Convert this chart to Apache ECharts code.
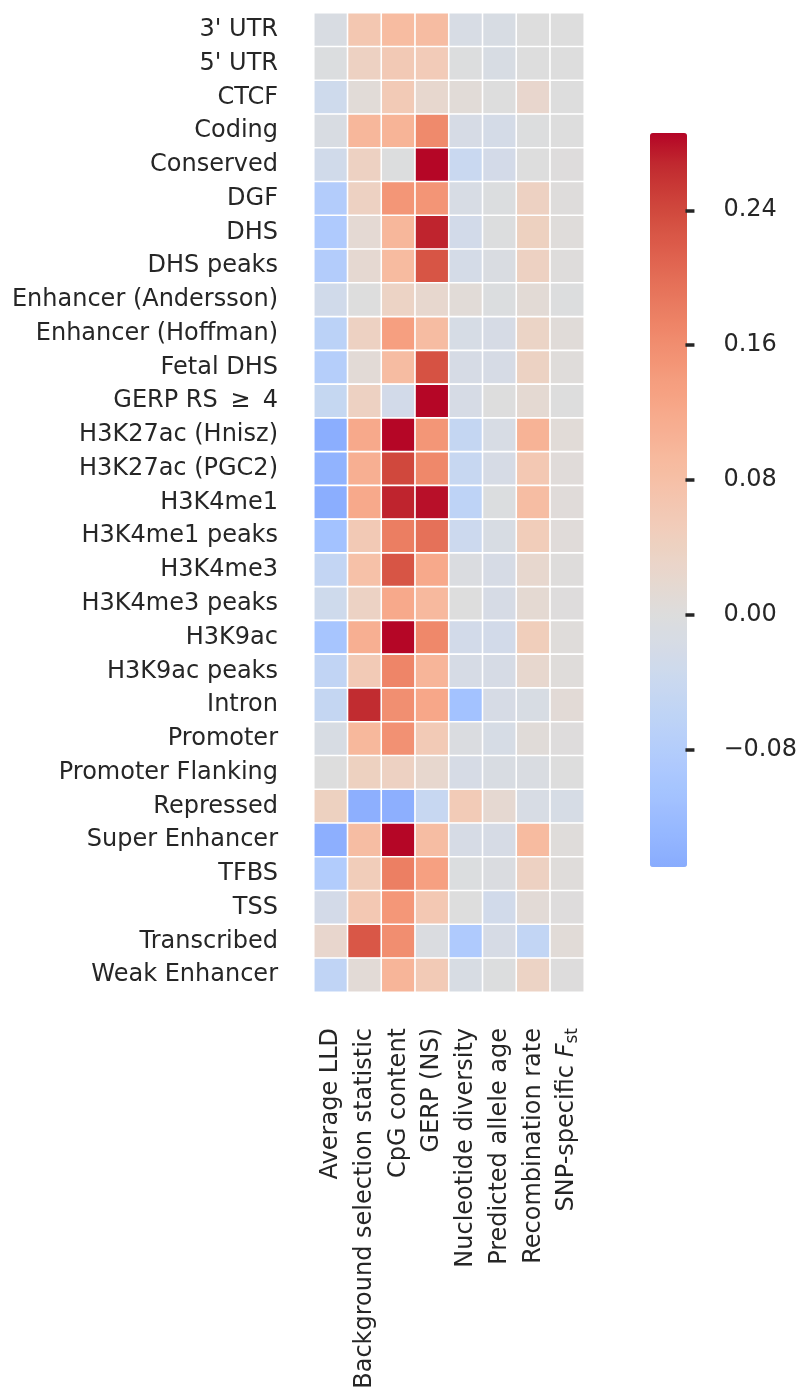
<!DOCTYPE html>
<html>
<head>
<meta charset="utf-8">
<script src="https://cdn.jsdelivr.net/npm/echarts@6/dist/echarts.min.js"></script>
<style>html,body{margin:0;padding:0;background:#fff;}#c{width:800px;height:1393px;}</style>
</head>
<body>
<div id="c"></div>
<script>
// ---- data ----
const rowLabels = ["3' UTR", "5' UTR", "CTCF", "Coding", "Conserved", "DGF", "DHS", "DHS peaks",
  "Enhancer (Andersson)", "Enhancer (Hoffman)", "Fetal DHS", "GERP RS \u2009\u2265\u2009 4",
  "H3K27ac (Hnisz)", "H3K27ac (PGC2)", "H3K4me1", "H3K4me1 peaks", "H3K4me3", "H3K4me3 peaks",
  "H3K9ac", "H3K9ac peaks", "Intron", "Promoter", "Promoter Flanking", "Repressed",
  "Super Enhancer", "TFBS", "TSS", "Transcribed", "Weak Enhancer"];
const colLabels = ["Average LLD", "Background selection statistic", "CpG content", "GERP (NS)",
  "Nucleotide diversity", "Predicted allele age", "Recombination rate", "SNP-specific Fst"];

const avgLLD = [-0.01, -0.005, -0.032, -0.01, -0.028, -0.08, -0.088, -0.08, -0.028, -0.066, -0.077, -0.047, -0.145, -0.137, -0.145, -0.107, -0.052, -0.032, -0.1, -0.055, -0.05, -0.012, -0.001, 0.042, -0.143, -0.082, -0.022, 0.024, -0.056];
const bgs = [0.065, 0.04, 0.008, 0.097, 0.04, 0.04, 0.015, 0.018, -0.001, 0.04, 0.01, 0.04, 0.12, 0.11, 0.12, 0.06, 0.078, 0.037, 0.11, 0.058, 0.265, 0.096, 0.042, -0.143, 0.085, 0.052, 0.062, 0.225, 0.01];
const cpg = [0.088, 0.06, 0.058, 0.102, -0.002, 0.148, 0.097, 0.09, 0.036, 0.135, 0.087, -0.024, 0.285, 0.24, 0.27, 0.18, 0.227, 0.12, 0.285, 0.172, 0.158, 0.155, 0.04, -0.143, 0.285, 0.178, 0.147, 0.16, 0.1];
const gerpNS = [0.087, 0.055, 0.022, 0.165, 0.285, 0.15, 0.27, 0.227, 0.022, 0.087, 0.23, 0.285, 0.148, 0.168, 0.28, 0.196, 0.12, 0.093, 0.168, 0.1, 0.122, 0.057, 0.022, -0.045, 0.085, 0.133, 0.062, -0.006, 0.058];
const nucDiv = [-0.013, -0.003, 0.008, -0.017, -0.04, -0.013, -0.025, -0.02, 0.008, -0.015, -0.017, -0.017, -0.05, -0.045, -0.06, -0.035, -0.006, -0.001, -0.025, -0.017, -0.107, -0.006, -0.017, 0.056, -0.017, -0.004, -0.001, -0.088, -0.012];
const alleleAge = [-0.012, -0.012, 0.0, -0.02, -0.022, -0.004, -0.002, -0.008, -0.004, -0.017, -0.017, -0.001, -0.014, -0.017, -0.004, -0.012, -0.017, -0.017, -0.024, -0.017, -0.017, -0.015, -0.01, 0.018, -0.017, -0.006, -0.026, -0.017, -0.002];
const recomb = [-0.001, 0.0, 0.024, -0.002, 0.0, 0.04, 0.042, 0.04, 0.012, 0.034, 0.038, 0.016, 0.104, 0.062, 0.085, 0.052, 0.022, 0.016, 0.05, 0.022, -0.012, 0.007, -0.008, -0.013, 0.09, 0.04, 0.01, -0.053, 0.035];
const fst = [0.0, 0.0, 0.0, 0.0, 0.002, 0.003, 0.005, 0.003, -0.002, 0.007, 0.004, -0.001, 0.009, 0.006, 0.006, 0.006, 0.003, 0.002, 0.005, 0.005, 0.01, 0.002, -0.001, -0.016, 0.005, 0.004, 0.002, 0.009, 0.001];

const colorbarTicks = [-0.08, 0.0, 0.08, 0.16, 0.24];
const vmin = -0.1493, vmax = 0.2858, center = 0;

// ---- build ----
const columns = [avgLLD, bgs, cpg, gerpNS, nucDiv, alleleAge, recomb, fst];
const data = [];
columns.forEach((col, ci) => col.forEach((v, ri) => data.push([ci, ri, Math.max(vmin, Math.min(vmax, v))])));

// coolwarm colormap (Moreland), 33 stops
const cw = [[59,76,192],[68,90,204],[77,104,215],[87,117,225],[98,130,234],[108,142,241],[119,154,247],[130,165,251],[141,176,254],[152,185,255],[163,194,255],[174,201,253],[184,208,249],[194,213,244],[204,217,238],[213,219,230],[221,221,221],[229,216,209],[236,211,197],[241,204,185],[245,196,173],[247,187,160],[247,177,148],[247,166,135],[244,154,123],[241,141,111],[236,127,99],[229,112,88],[222,96,77],[213,80,66],[203,62,56],[192,40,47],[180,4,38]];
function cwAt(t) {
  t = Math.max(0, Math.min(1, t));
  const p = t * (cw.length - 1), i = Math.min(cw.length - 2, Math.floor(p)), f = p - i;
  const c = cw[i].map((a, k) => Math.round(a + (cw[i + 1][k] - a) * f));
  return 'rgb(' + c.join(',') + ')';
}
const vr = Math.max(vmax - center, center - vmin);
const t0 = (vmin - (center - vr)) / (2 * vr), t1 = (vmax - (center - vr)) / (2 * vr);
const grad = [];
for (let i = 0; i <= 80; i++) grad.push(cwAt(t0 + (t1 - t0) * i / 80));

const TXT = '#262626';
const FONT = 'DejaVu Sans';
const chart = echarts.init(document.getElementById('c'), null, {renderer: 'canvas'});
chart.setOption({
  backgroundColor: '#fff',
  animation: false,
  textStyle: {fontFamily: FONT},
  grid: [
    {left: 314, top: 13, width: 270, height: 979},
    {left: 650, top: 133, width: 37, height: 734}
  ],
  xAxis: [
    {type: 'category', data: colLabels, gridIndex: 0, position: 'bottom',
     axisLine: {show: false}, axisTick: {show: false}, splitLine: {show: false},
     axisLabel: {rotate: 90, margin: 36, fontSize: 24, color: TXT, fontFamily: FONT, interval: 0,
       formatter: v => v === 'SNP-specific Fst' ? '{n|SNP-specific }{f|F}{s|st}' : v,
       rich: {n: {fontSize: 24, color: TXT, fontFamily: FONT},
              f: {fontSize: 24, color: TXT, fontFamily: FONT, fontStyle: 'italic'},
              s: {fontSize: 17, color: TXT, fontFamily: FONT, verticalAlign: 'bottom', padding: [10, 0, 0, 0]}}}},
    {type: 'value', gridIndex: 1, min: 0, max: 1, show: false}
  ],
  yAxis: [
    {type: 'category', data: rowLabels, gridIndex: 0, inverse: true,
     axisLine: {show: false}, axisTick: {show: false}, splitLine: {show: false},
     axisLabel: {margin: 36, fontSize: 24, color: TXT, fontFamily: FONT, interval: 0, padding: [3, 0, 0, 0]}},
    {type: 'value', gridIndex: 1, position: 'right', min: vmin, max: vmax, show: true, z: 10,
     axisLine: {show: true, onZero: false, lineStyle: {color: 'rgba(0,0,0,0)', width: 0}}, splitLine: {show: false},
     axisTick: {show: true, inside: false, length: 9, customValues: colorbarTicks, lineStyle: {color: TXT, width: 3.5}},
     axisLabel: {show: true, margin: 38, fontSize: 24, color: TXT, fontFamily: FONT, customValues: colorbarTicks,
       formatter: v => (v < 0 ? '\u2212' : '') + Math.abs(v).toFixed(2)}}
  ],
  visualMap: {
    type: 'continuous', seriesIndex: 0, min: vmin, max: vmax,
    left: 650, top: 133, itemWidth: 37, itemHeight: 734, padding: 0, z: 1,
    orient: 'vertical', calculable: false, hoverLink: false, text: null, showLabel: false,
    inRange: {color: grad}
  },
  series: [{
    type: 'heatmap', xAxisIndex: 0, yAxisIndex: 0, data: data,
    itemStyle: {borderColor: '#fff', borderWidth: 1.6},
    emphasis: {disabled: true}
  }]
});
</script>
</body>
</html>
